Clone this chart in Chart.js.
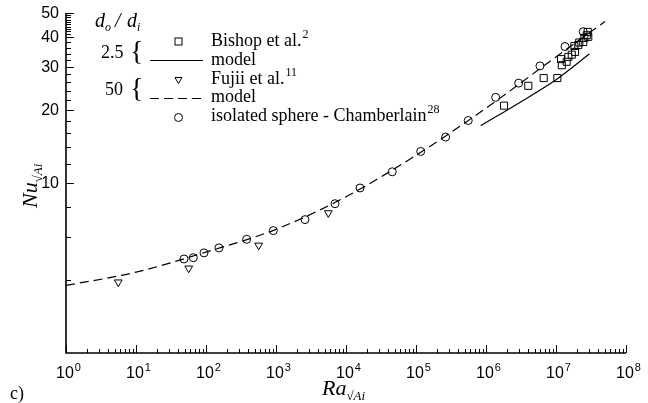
<!DOCTYPE html>
<html>
<head>
  <meta charset="UTF-8"/>
  <title>Nu vs Ra</title>
  <script src="https://cdn.jsdelivr.net/npm/chart.js"></script>
  <style>
    body { margin: 0; background: #fff; }
    #wrap { width: 648px; height: 403px; }
  </style>
</head>
<body>
<div id="wrap"><canvas id="myChart" width="648" height="403"></canvas></div>
<script>
  // values
  const bishopRa = [1.81e6, 4.02e6, 6.67e6, 1.045e7, 1.21e7, 1.18e7, 1.42e7, 1.5e7, 1.68e7, 1.87e7, 1.83e7, 2.08e7, 2.15e7, 2.45e7, 2.54e7, 2.75e7, 2.89e7, 2.84e7];
  const bishopNu = [20.8, 25.1, 27.0, 27.0, 30.5, 32.3, 31.5, 33.0, 33.7, 34.6, 36.6, 36.9, 37.8, 38.0, 39.5, 40.5, 39.9, 41.8];

  const fujiiRa = [5.58, 56.6, 566, 5590];
  const fujiiNu = [3.91, 4.46, 5.54, 7.53];

  const sphereRa = [48.5, 65.9, 93.6, 153, 381, 915, 2597, 6966, 15850, 45800, 116700, 265000, 558000, 1.376e6, 2.93e6, 5.9e6, 1.345e7, 2.45e7];
  const sphereNu = [4.87, 4.93, 5.16, 5.41, 5.87, 6.37, 7.07, 8.22, 9.54, 11.12, 13.48, 15.45, 18.07, 22.5, 25.74, 30.3, 36.4, 41.9];

  const model25Ra = [8.4e5, 3e6, 1e7, 3e7];
  const model25Nu = [17.2, 21.4, 26.6, 33.9];

  const model50Ra = [1, 10, 100, 1e3, 1e4, 1e5, 1e6, 1e7, 5e7];
  const model50Nu = [3.79, 4.3, 5.2, 6.45, 8.78, 13.0, 20.3, 33.0, 46.1];

  // axis ticks
  const xDecades = [0, 1, 2, 3, 4, 5, 6, 7, 8];
  const yMajor = [10, 20, 30, 40, 50];
  const yMinor = [4, 6, 8, 12, 14, 16, 18, 22, 24, 26, 28, 32, 34, 36, 38, 41, 42, 43, 44, 45, 46, 47, 48, 49];

  const serif = '"Liberation Serif", "Times New Roman", serif';
  const sans = '"Liberation Sans", Arial, sans-serif';

  function pts(xs, ys) { return xs.map((x, i) => ({ x: x, y: ys[i] })); }

  function drawSquare(ctx, x, y) { ctx.strokeRect(x - 3.5, y - 3.5, 7, 7); }
  function drawCircle(ctx, x, y) { ctx.beginPath(); ctx.arc(x, y, 4, 0, Math.PI * 2); ctx.stroke(); }
  function drawTri(ctx, x, y) {
    ctx.beginPath();
    ctx.moveTo(x - 3.5, y - 2.5); ctx.lineTo(x + 3.5, y - 2.5); ctx.lineTo(x, y + 3.5);
    ctx.closePath(); ctx.stroke();
  }
  // text with a raised or lowered small part
  function textWith(ctx, main, small, x, y, font, smallFont, dy) {
    ctx.font = font;
    ctx.fillText(main, x, y);
    let w = ctx.measureText(main).width;
    ctx.font = smallFont;
    ctx.fillText(small, x + w + 1, y + dy);
  }

  const axesPlugin = {
    id: 'axes',
    afterDraw(chart) {
      const ctx = chart.ctx, xs = chart.scales.x, ys = chart.scales.y, a = chart.chartArea;
      ctx.save();
      ctx.strokeStyle = '#000';
      ctx.fillStyle = '#000';
      ctx.lineWidth = 1.6;
      ctx.beginPath();
      ctx.moveTo(a.left, a.top); ctx.lineTo(a.left, a.bottom); ctx.lineTo(a.right, a.bottom);
      ctx.stroke();

      ctx.lineWidth = 1;
      // x ticks, pointing inward
      xDecades.forEach(e => {
        for (let m = 1; m <= 9; m++) {
          if (e == 8 && m > 1) break;
          const px = Math.round(xs.getPixelForValue(m * Math.pow(10, e))) + 0.5;
          const len = m == 1 ? 8 : 4;
          ctx.beginPath(); ctx.moveTo(px, a.bottom); ctx.lineTo(px, a.bottom - len); ctx.stroke();
        }
        const px = xs.getPixelForValue(Math.pow(10, e));
        ctx.font = '16px ' + sans;
        const w1 = ctx.measureText('10').width;
        ctx.font = '11px ' + sans;
        const w2 = ctx.measureText(String(e)).width;
        const x0 = px + 2 - (w1 + w2) / 2;
        ctx.textAlign = 'left';
        textWith(ctx, '10', String(e), x0, 378, '16px ' + sans, '11px ' + sans, -7);
      });
      // y ticks
      yMinor.forEach(v => {
        const py = Math.round(ys.getPixelForValue(v)) + 0.5;
        ctx.beginPath(); ctx.moveTo(a.left, py); ctx.lineTo(a.left + 5, py); ctx.stroke();
      });
      ctx.font = '16px ' + sans;
      ctx.textAlign = 'right';
      ctx.textBaseline = 'middle';
      yMajor.forEach(v => {
        const py = Math.round(ys.getPixelForValue(v)) + 0.5;
        ctx.beginPath(); ctx.moveTo(a.left, py); ctx.lineTo(a.left + 8, py); ctx.stroke();
        ctx.fillText(String(v), 59, py);
      });
      ctx.textAlign = 'left';
      ctx.textBaseline = 'alphabetic';

      // axis titles
      ctx.font = 'italic 22px ' + serif;
      ctx.fillText('Ra', 322, 395);
      let w = ctx.measureText('Ra').width;
      ctx.font = '13px ' + serif;
      ctx.fillText('\u221A', 322 + w, 400);
      let w2 = ctx.measureText('\u221A').width;
      ctx.font = 'italic 13px ' + serif;
      ctx.fillText('Ai', 322 + w + w2, 400);

      ctx.save();
      ctx.translate(37, 208);
      ctx.rotate(-Math.PI / 2);
      ctx.font = 'italic 22px ' + serif;
      ctx.fillText('Nu', 0, 0);
      w = ctx.measureText('Nu').width;
      ctx.font = '13px ' + serif;
      ctx.fillText('\u221A', w, 5);
      w2 = ctx.measureText('\u221A').width;
      ctx.font = 'italic 13px ' + serif;
      ctx.fillText('Ai', w + w2, 5);
      ctx.restore();

      ctx.font = '18px ' + serif;
      ctx.fillText('c)', 10, 399);

      // legend
      ctx.font = 'italic 20px ' + serif;
      ctx.fillText('d', 95, 27);
      ctx.font = 'italic 12px ' + serif;
      ctx.fillText('o', 105, 31);
      ctx.font = 'italic 20px ' + serif;
      ctx.fillText('/', 115, 27);
      ctx.fillText('d', 127, 27);
      ctx.font = 'italic 12px ' + serif;
      ctx.fillText('i', 137, 31);

      ctx.font = '18px ' + serif;
      ctx.fillText('2.5', 101, 58);
      ctx.fillText('50', 105, 95);
      ctx.font = '28px ' + serif;
      ctx.fillText('{', 130, 60);
      ctx.fillText('{', 130, 97);

      drawSquare(ctx, 178.5, 41.5);
      ctx.beginPath(); ctx.moveTo(150, 60.5); ctx.lineTo(203, 60.5); ctx.stroke();
      drawTri(ctx, 178.5, 80);
      ctx.setLineDash([9, 5]);
      ctx.beginPath(); ctx.moveTo(150, 98.5); ctx.lineTo(203, 98.5); ctx.stroke();
      ctx.setLineDash([]);
      drawCircle(ctx, 178.5, 117.5);

      const sf = '18px ' + serif, sm = '12px ' + serif;
      textWith(ctx, 'Bishop et al.', '2', 211, 46, sf, sm, -8);
      ctx.font = sf;
      ctx.fillText('model', 211, 64.5);
      textWith(ctx, 'Fujii et al.', '11', 211, 83.5, sf, sm, -8);
      ctx.font = sf;
      ctx.fillText('model', 211, 102);
      textWith(ctx, 'isolated sphere - Chamberlain', '28', 211, 121, sf, sm, -8);
      ctx.restore();
    }
  };

  const ctx = document.getElementById('myChart').getContext('2d');
  const chart = new Chart(ctx, {
    type: 'scatter',
    data: {
      datasets: [
        {
          label: 'Bishop et al.',
          data: pts(bishopRa, bishopNu),
          pointStyle: 'rect', pointRadius: 5, borderColor: '#000', borderWidth: 1,
          backgroundColor: 'rgba(0,0,0,0)', showLine: false
        },
        {
          label: 'model 2.5',
          data: pts(model25Ra, model25Nu),
          showLine: true, pointRadius: 0, borderColor: '#000', borderWidth: 1.2,
          cubicInterpolationMode: 'monotone'
        },
        {
          label: 'Fujii et al.',
          data: pts(fujiiRa, fujiiNu),
          pointStyle: 'triangle', pointRotation: 180, pointRadius: 4.5, borderColor: '#000', borderWidth: 1,
          backgroundColor: 'rgba(0,0,0,0)', showLine: false
        },
        {
          label: 'model 50',
          data: pts(model50Ra, model50Nu),
          showLine: true, pointRadius: 0, borderColor: '#000', borderWidth: 1.2,
          borderDash: [9, 5], cubicInterpolationMode: 'monotone'
        },
        {
          label: 'isolated sphere - Chamberlain',
          data: pts(sphereRa, sphereNu),
          pointStyle: 'circle', pointRadius: 4, borderColor: '#000', borderWidth: 1,
          backgroundColor: 'rgba(0,0,0,0)', showLine: false
        }
      ]
    },
    options: {
      responsive: false,
      animation: false,
      layout: { padding: { left: 66, right: 22, top: 13, bottom: 50 } },
      plugins: { legend: { display: false }, tooltip: { enabled: false } },
      scales: {
        x: { type: 'logarithmic', min: 1, max: 1e8, display: false },
        y: { type: 'logarithmic', min: 2, max: 50, display: false }
      }
    },
    plugins: [axesPlugin]
  });
</script>
</body>
</html>
